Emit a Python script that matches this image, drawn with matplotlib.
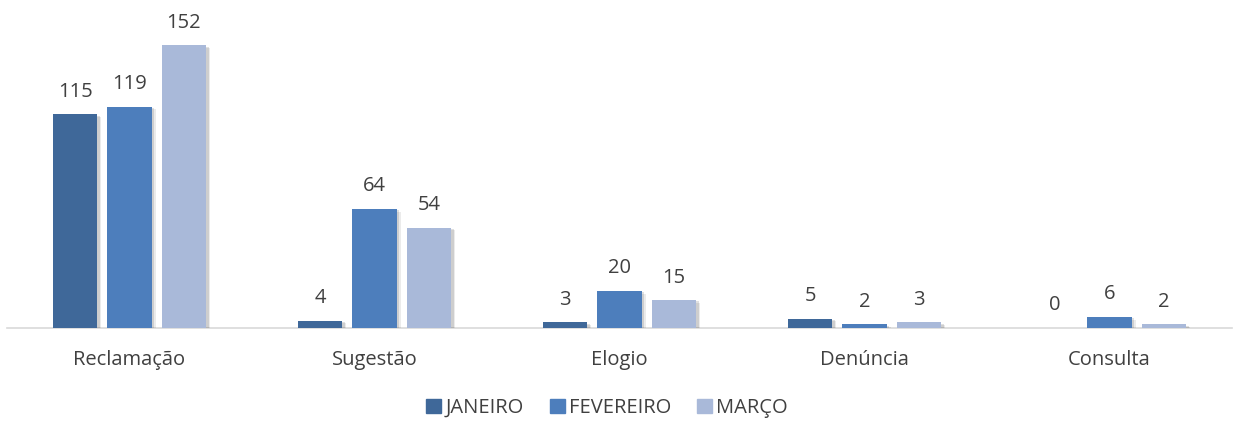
import matplotlib
matplotlib.use("Agg")
import matplotlib.pyplot as plt
import matplotlib.patheffects as pe
import numpy as np

categories = ["Reclamação", "Sugestão", "Elogio", "Denúncia", "Consulta"]
series_names = ["JANEIRO", "FEVEREIRO", "MARÇO"]
janeiro = [115, 4, 3, 5, 0]
fevereiro = [119, 64, 20, 2, 6]
marco = [152, 54, 15, 3, 2]
series = [janeiro, fevereiro, marco]
colors = ["#3F6899", "#4D7EBC", "#A9B9D9"]

plt.rcParams['font.family'] = ['Open Sans', 'DejaVu Sans']
W, H = 1233, 422
fig = plt.figure(figsize=(W/100, H/100), dpi=100)
ax = fig.add_axes([7/W, (H-328)/H, 1225/W, 318/H])
ax.set_xlim(-0.5, 4.5)
ax.set_ylim(0, 171)

x = np.arange(len(categories))
bw = 0.18
step = 0.222
txt = "#404040"
shadow = [pe.SimplePatchShadow(offset=(3, -2), shadow_rgbFace="#000000", alpha=0.08),
          pe.SimplePatchShadow(offset=(2, -1), shadow_rgbFace="#000000", alpha=0.12),
          pe.Normal()]
for i, (vals, name, c) in enumerate(zip(series, series_names, colors)):
    pos = x + (i - 1) * step
    bars = ax.bar(pos, vals, width=bw, color=c, label=name, zorder=3)
    for b in bars:
        b.set_path_effects(shadow)
    for p, v in zip(pos, vals):
        ax.annotate(str(v), (p, v), xytext=(0, 9), textcoords="offset points",
                    ha="center", va="bottom", fontsize=14.5, color=txt)

for s in ["top", "right", "left"]:
    ax.spines[s].set_visible(False)
ax.spines["bottom"].set_color("#D9D9D9")
ax.spines["bottom"].set_linewidth(1.2)
ax.set_yticks([])
ax.set_xticks(x)
ax.set_xticklabels(categories, fontsize=14.5, color=txt)
ax.tick_params(axis="x", length=0, pad=16)

handles = [plt.Rectangle((0, 0), 1, 1, color=c) for c in colors]
leg = fig.legend(handles, series_names, loc="center", bbox_to_anchor=(607/W, (H-408)/H),
                 ncol=3, frameon=False, fontsize=14.5, handlelength=0.75, handleheight=0.75,
                 handletextpad=0.2, columnspacing=1.3, labelcolor=txt)
fig.savefig("out.png", dpi=100, facecolor="white")
